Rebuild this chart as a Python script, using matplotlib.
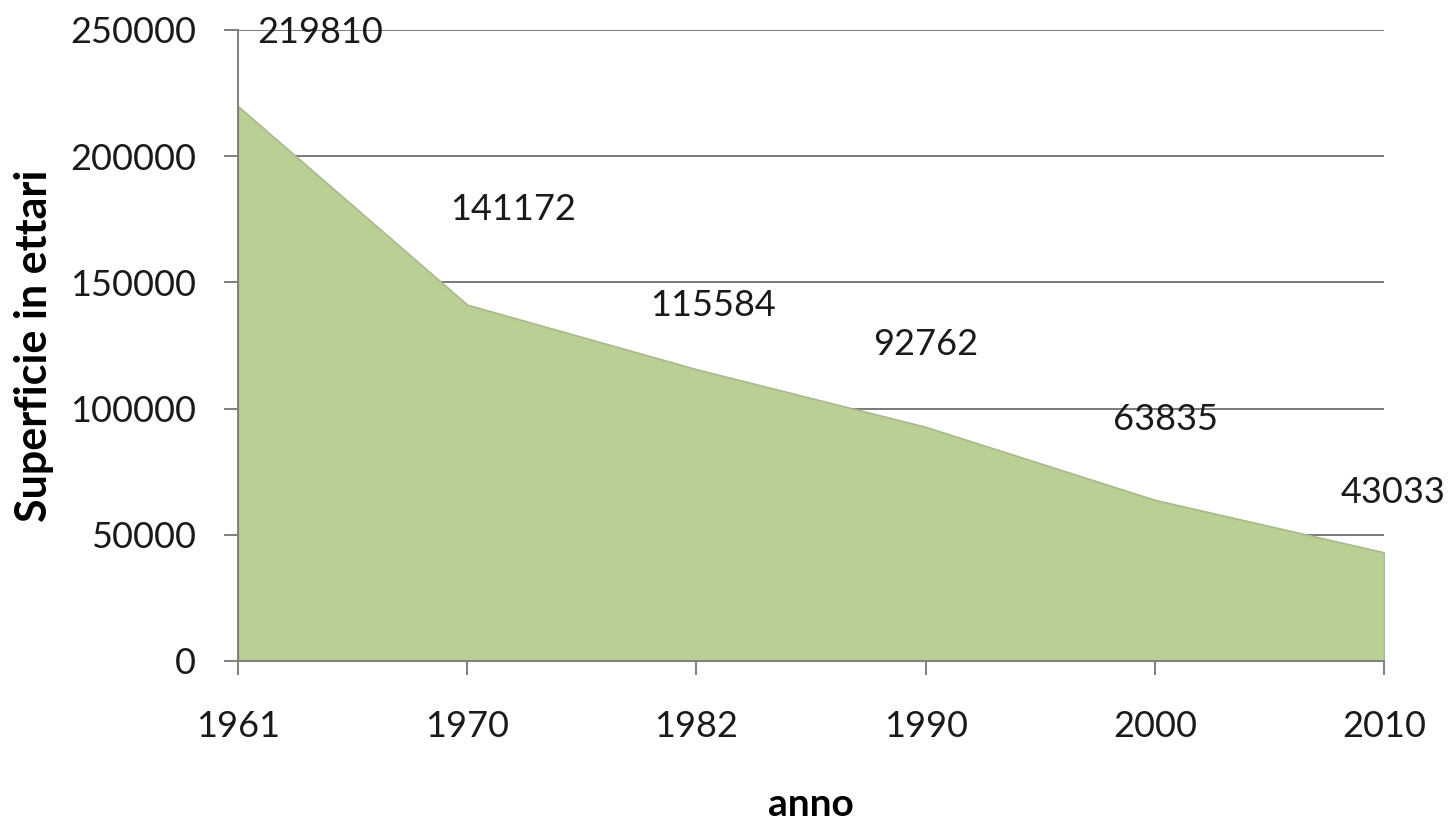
import numpy as np
import matplotlib
matplotlib.use("Agg")
from matplotlib import pyplot as plt

# Superficie (ettari) per anno
anni = ["1961", "1970", "1982", "1990", "2000", "2010"]
superficie = [219810, 141172, 115584, 92762, 63835, 43033]
y_ticks = [0, 50000, 100000, 150000, 200000, 250000]

# where each data label sits relative to its point (pixels)
label_dx = [82, 46, 16, 0, 11, 9]
label_dy = [74, 95, 64, 82, 80, 60]

plt.rcParams['font.family'] = ['Lato', 'DejaVu Sans']

fig = plt.figure(figsize=(14.54, 8.26), dpi=100)
ax = fig.add_axes([0.1637, 0.1998, 0.7882, 0.7639])

x = np.arange(len(anni))
ax.set_axisbelow(True)
ax.yaxis.grid(True, color='#7a7a7a', linewidth=1.4)
ax.fill_between(x, superficie, 0, color='#b9cf93', edgecolor='#a9b98c',
                linewidth=1.2, zorder=2)

for i, v in enumerate(superficie):
    ax.annotate(str(v), (x[i], v), xytext=(label_dx[i], label_dy[i]),
                textcoords='offset pixels', ha='center', va='center',
                fontsize=26, color='#1a1a1a', zorder=5)

ax.set_xlim(0, len(anni) - 1)
ax.set_ylim(0, 250000)
ax.set_xticks(x)
ax.set_xticklabels(anni)
ax.set_yticks(y_ticks)
ax.set_yticklabels([str(t) for t in y_ticks])

for s in ['top', 'right']:
    ax.spines[s].set_visible(False)
for s in ['left', 'bottom']:
    ax.spines[s].set_color('#7f7f7f')
    ax.spines[s].set_linewidth(1.4)
    ax.spines[s].set_zorder(3)

ax.tick_params(axis='y', length=10, width=1.4, color='#7f7f7f', pad=20,
               labelsize=26, labelcolor='#1a1a1a')
ax.tick_params(axis='x', length=10, width=1.4, color='#7f7f7f', pad=25,
               labelsize=26, labelcolor='#1a1a1a')

ax.set_xlabel("anno", fontsize=28, fontweight='bold', labelpad=32)
ax.set_ylabel("Superficie in ettari", fontsize=31, fontweight='bold', labelpad=12)

fig.savefig("out.png", dpi=100)
